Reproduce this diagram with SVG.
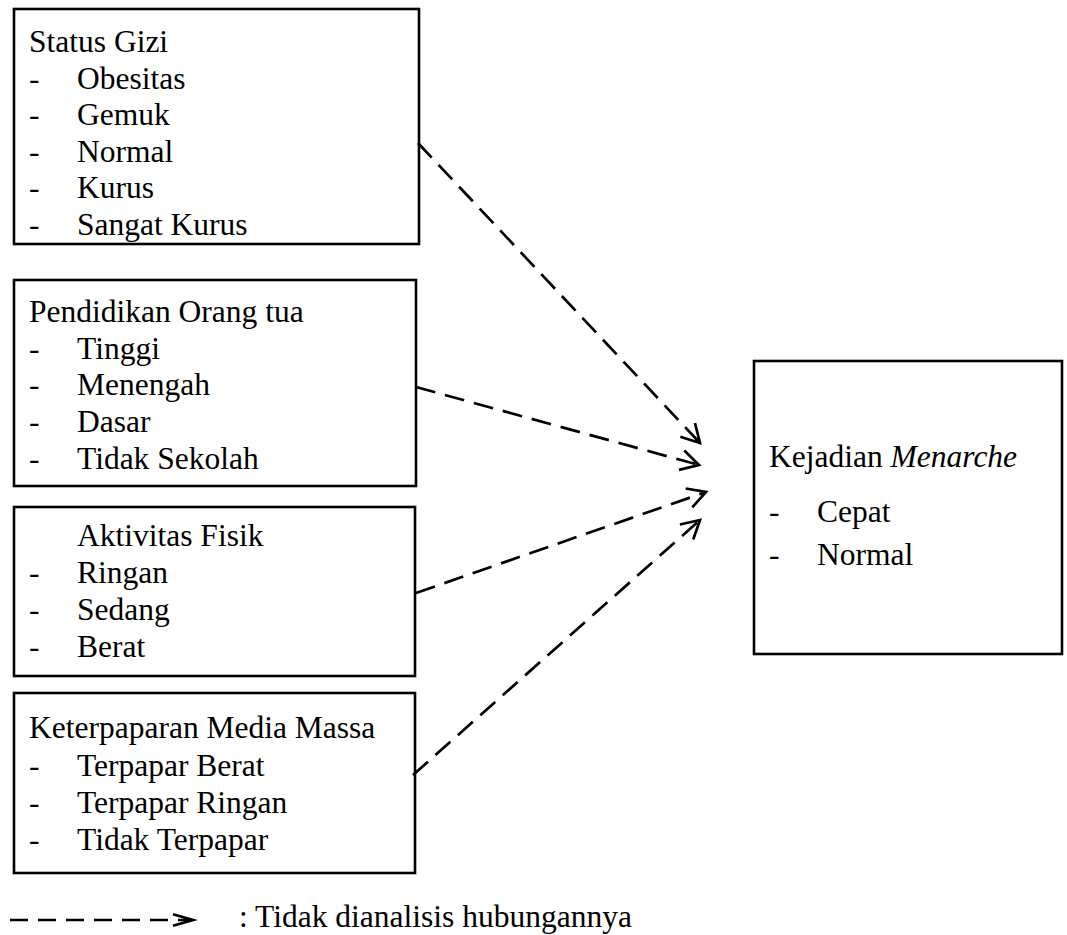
<svg xmlns="http://www.w3.org/2000/svg" width="1067" height="935" viewBox="0 0 1067 935">
  <style>
    .box { fill: #ffffff; stroke: #000000; stroke-width: 2.6; }
    text { font-family: "Liberation Serif", "Times New Roman", serif; font-size: 31.5px; fill: #000000; }
    .conn { fill: none; stroke: #000000; stroke-width: 2.7; stroke-dasharray: 20 10; }
    .head { fill: none; stroke: #000000; stroke-width: 2.7; stroke-linecap: butt; stroke-linejoin: miter; }
  </style>
  <defs>
    <marker id="arrow" markerUnits="userSpaceOnUse" markerWidth="40" markerHeight="40" viewBox="-25 -20 30 40" refX="0" refY="0" orient="auto">
      <path class="head" d="M-18,-10 L0,0 L-18,10"/>
    </marker>
  </defs>
  <rect width="1067" height="935" fill="#ffffff"/>

  <g id="node-status-gizi">
    <rect class="box" x="14" y="9" width="405" height="235"/>
    <text x="29" y="52">Status Gizi</text>
    <text x="29" y="88.5">-</text><text x="77" y="88.5">Obesitas</text>
    <text x="29" y="125">-</text><text x="77" y="125">Gemuk</text>
    <text x="29" y="161.7">-</text><text x="77" y="161.7">Normal</text>
    <text x="29" y="198.4">-</text><text x="77" y="198.4">Kurus</text>
    <text x="29" y="235">-</text><text x="77" y="235">Sangat Kurus</text>
  </g>

  <g id="node-pendidikan">
    <rect class="box" x="14" y="280" width="402" height="206"/>
    <text x="29" y="322">Pendidikan Orang tua</text>
    <text x="29" y="358.7">-</text><text x="77" y="358.7">Tinggi</text>
    <text x="29" y="395.3">-</text><text x="77" y="395.3">Menengah</text>
    <text x="29" y="432">-</text><text x="77" y="432">Dasar</text>
    <text x="29" y="468.6">-</text><text x="77" y="468.6">Tidak Sekolah</text>
  </g>

  <g id="node-aktivitas">
    <rect class="box" x="14" y="507" width="401" height="169"/>
    <text x="77" y="545.7">Aktivitas Fisik</text>
    <text x="29" y="583.3">-</text><text x="77" y="583.3">Ringan</text>
    <text x="29" y="620">-</text><text x="77" y="620">Sedang</text>
    <text x="29" y="656.7">-</text><text x="77" y="656.7">Berat</text>
  </g>

  <g id="node-media">
    <rect class="box" x="14" y="693" width="401" height="180"/>
    <text x="29" y="738.3">Keterpaparan Media Massa</text>
    <text x="29" y="775.7">-</text><text x="77" y="775.7">Terpapar Berat</text>
    <text x="29" y="812.7">-</text><text x="77" y="812.7">Terpapar Ringan</text>
    <text x="29" y="849.5">-</text><text x="77" y="849.5">Tidak Terpapar</text>
  </g>

  <g id="node-menarche">
    <rect class="box" x="754" y="361" width="308" height="293"/>
    <text x="769" y="466.7">Kejadian <tspan font-style="italic">Menarche</tspan></text>
    <text x="769" y="522">-</text><text x="817" y="522">Cepat</text>
    <text x="769" y="565">-</text><text x="817" y="565">Normal</text>
  </g>

  <g id="connectors">
    <line class="conn" x1="418" y1="143" x2="700" y2="443" marker-end="url(#arrow)"/>
    <line class="conn" x1="416" y1="387" x2="699" y2="465" marker-end="url(#arrow)"/>
    <line class="conn" x1="416" y1="593" x2="706" y2="492" marker-end="url(#arrow)"/>
    <line class="conn" x1="413" y1="775" x2="700" y2="520" marker-end="url(#arrow)"/>
  </g>

  <g id="legend">
    <line x1="10" y1="920" x2="192" y2="920" stroke="#000000" stroke-width="2.7" stroke-dasharray="18 10"/>
    <path class="head" d="M173,914.3 L193,920 L173,925.7"/>
    <text x="239" y="927">: Tidak dianalisis hubungannya</text>
  </g>
</svg>
